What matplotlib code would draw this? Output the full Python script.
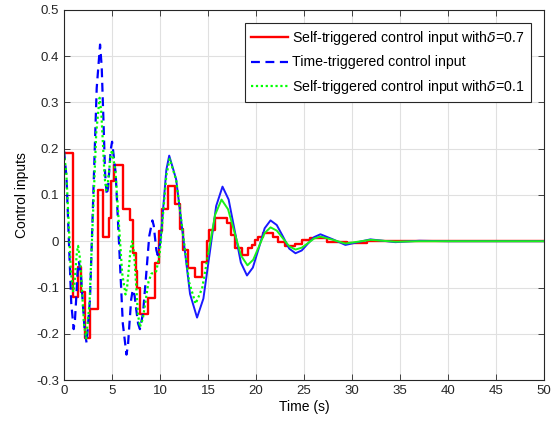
import matplotlib
matplotlib.use("Agg")
import matplotlib.pyplot as plt
import numpy as np

plt.rcParams['font.family'] = ['Liberation Sans', 'DejaVu Sans']
plt.rcParams['mathtext.fontset'] = 'dejavusans'

# time-triggered control input
t_time = [0, 0.25, 0.5, 0.75, 1.0, 1.14, 1.28, 1.41, 1.55, 1.75, 1.95, 2.15, 2.35,
          2.7, 3.05, 3.4, 3.75, 3.92, 4.1, 4.27, 4.45, 4.59, 4.72, 4.86, 5.0,
          5.37, 5.75, 6.12, 6.5, 6.66, 6.82, 6.99, 7.15, 7.34, 7.52, 7.71, 7.9,
          8.22, 8.55, 8.87, 9.2, 9.34, 9.47, 9.61, 9.75, 10.05, 10.35, 10.65, 10.95,
          11.67, 12.4, 13.12, 13.85, 14.51, 15.18, 15.84, 16.5, 17.14, 17.78, 18.41,
          19.05, 19.66, 20.28, 20.89, 21.5, 22.15, 22.8, 23.45, 24.1, 24.75, 25.4,
          26.05, 26.7, 28.0, 29.3, 30.6, 31.9, 33.2, 34.5, 37.0, 40.0, 50.0]
u_time = [0.195, 0.139, 0.003, -0.134, -0.19, -0.169, -0.118, -0.066, -0.045,
          -0.071, -0.133, -0.194, -0.22, -0.126, 0.103, 0.331, 0.425, 0.377, 0.263,
          0.148, 0.10, 0.117, 0.158, 0.198, 0.215, 0.148, -0.015, -0.178, -0.245,
          -0.224, -0.175, -0.126, -0.105, -0.117, -0.148, -0.178, -0.19, -0.156,
          -0.073, 0.011, 0.045, 0.034, 0.008, -0.019, -0.03, 0.001, 0.078, 0.154,
          0.185, 0.134, 0.01, -0.114, -0.165, -0.124, -0.024, 0.076, 0.118, 0.090,
          0.022, -0.046, -0.074, -0.057, -0.015, 0.028, 0.045, 0.035, 0.01, -0.016,
          -0.026, -0.02, -0.005, 0.009, 0.015, 0.004, -0.008, -0.002, 0.004, 0.001,
          -0.002, 0.001, 0.0, 0.0]

# self-triggered, delta = 0.1
t_st1 = [0, 0.24, 0.48, 0.71, 0.95, 1.08, 1.2, 1.33, 1.46, 1.67, 1.88, 2.09, 2.3,
         2.65, 3.0, 3.35, 3.7, 3.87, 4.05, 4.22, 4.4, 4.55, 4.7, 4.85, 5.0, 5.35,
         5.7, 6.05, 6.4, 6.57, 6.75, 6.92, 7.1, 7.3, 7.5, 7.7, 7.9, 8.2, 8.5, 8.8,
         9.1, 9.35, 9.6, 9.95, 10.3, 10.65, 11.0, 11.68, 12.35, 13.03, 13.7, 14.38,
         15.05, 15.73, 16.4, 17.08, 17.75, 18.43, 19.1, 19.7, 20.3, 20.9, 21.5,
         22.15, 22.8, 23.45, 24.1, 24.75, 25.4, 26.05, 26.7, 28.0, 29.3, 30.6, 31.9,
         34.5, 37.0, 50.0]
u_st1 = [0.19, 0.146, 0.04, -0.066, -0.11, -0.095, -0.06, -0.025, -0.01, -0.039,
         -0.11, -0.181, -0.21, -0.134, 0.05, 0.234, 0.31, 0.281, 0.21, 0.139, 0.11,
         0.123, 0.154, 0.184, 0.197, 0.151, 0.041, -0.069, -0.115, -0.098, -0.058,
         -0.017, 0.0, -0.027, -0.093, -0.158, -0.185, -0.168, -0.128, -0.087, -0.07,
         -0.068, -0.065, -0.029, 0.057, 0.142, 0.178, 0.132, 0.022, -0.089, -0.135,
         -0.102, -0.023, 0.057, 0.09, 0.069, 0.019, -0.031, -0.052, -0.04, -0.011,
         0.018, 0.03, 0.023, 0.006, -0.011, -0.018, -0.014, -0.004, 0.006, 0.01,
         0.003, -0.005, -0.001, 0.003, -0.001, 0.0, 0.0]

# self-triggered, delta = 0.7 (piecewise constant)
t_st7 = [0, 0.9, 1.5, 1.75, 2.2, 2.7, 3.5, 4.05, 4.7, 4.86, 5.2, 6.1, 6.9, 7.2,
         7.45, 7.6, 7.9, 8.75, 9.5, 9.85, 10.2, 10.83, 11.55, 12.1, 12.4, 12.9,
         13.65, 14.4, 14.9, 15.05, 15.7, 17.0, 17.4, 17.8, 18.5, 19.2, 19.6, 19.9,
         20.2, 20.7, 21.8, 22.3, 23.0, 24.1, 24.8, 25.6, 27.4, 29.5, 31.5, 34.0, 50.0]
u_st7 = [0.19, -0.12, -0.055, -0.11, -0.21, -0.147, 0.11, 0.01, 0.05, 0.13, 0.165,
         0.07, 0.045, -0.025, -0.065, -0.1, -0.157, -0.123, -0.048, 0.022, 0.07,
         0.12, 0.08, 0.027, -0.02, -0.058, -0.078, -0.045, 0.0, 0.024, 0.05, 0.04,
         0.013, -0.015, -0.03, -0.015, -0.009, 0.002, 0.009, 0.017, 0.009, -0.002,
         -0.011, -0.005, 0.002, 0.007, -0.002, -0.004, 0.001, 0.0, 0.0]

# the dash / dot pattern only shows on the steep early part in the original,
# the slow tail renders as a solid line
blue_cut = t_time.index(10.05)
green_cut = t_st1.index(15.05)

fig = plt.figure(figsize=(5.57, 4.28), dpi=100)
ax = fig.add_axes([0.115, 0.112, 0.862, 0.865])

ax.plot(t_st7, u_st7, color=(1, 0, 0), lw=1.7, drawstyle='steps-post',
        label=r'Self-triggered control input with$\delta$=0.7')
ax.plot(t_time[:blue_cut + 1], u_time[:blue_cut + 1], color=(0, 0, 1), lw=1.6,
        linestyle=(0, (4, 2.5)), label='Time-triggered control input')
ax.plot(t_time[blue_cut:], u_time[blue_cut:], color=(0.1, 0.1, 1), lw=1.4)
ax.plot(t_st1[:green_cut + 1], u_st1[:green_cut + 1], color=(0, 1, 0), lw=1.6,
        linestyle=(0, (1, 1.2)),
        label=r'Self-triggered control input with$\delta$=0.1')
ax.plot(t_st1[green_cut:], u_st1[green_cut:], color=(0.1, 0.95, 0.1), lw=1.4)

ax.set_xlim(0, 50)
ax.set_ylim(-0.3, 0.5)
ax.set_xticks(np.arange(0, 51, 5))
ax.set_yticks(np.arange(-0.3, 0.51, 0.1))
ax.set_yticklabels(['-0.3', '-0.2', '-0.1', '0', '0.1', '0.2', '0.3', '0.4', '0.5'])
ax.tick_params(direction='in', top=True, right=True, labelsize=9.5, length=4,
               width=0.6, colors='#262626')
ax.grid(True, color='#e0e0e0', lw=0.8)
ax.set_axisbelow(True)
for s in ax.spines.values():
    s.set_linewidth(0.8)
    s.set_color('#262626')

ax.set_xlabel('Time (s)', fontsize=10, labelpad=2)
ax.set_ylabel('Control inputs', fontsize=10, labelpad=5)

leg = ax.legend(loc='upper right', fontsize=10.2, fancybox=False, framealpha=1,
                edgecolor='#262626', handlelength=2.6, handletextpad=0.3,
                borderaxespad=0.9, labelspacing=0.6, borderpad=0.45)
leg.get_frame().set_linewidth(0.8)

fig.savefig('out.png', dpi=100)
